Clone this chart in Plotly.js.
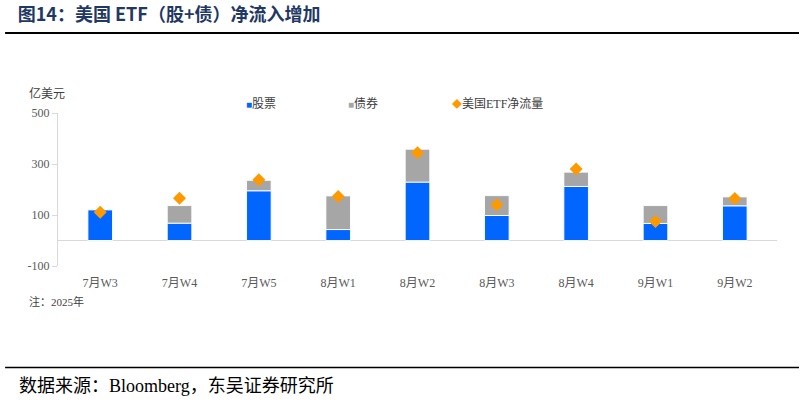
<!DOCTYPE html>
<html>
<head>
<meta charset="utf-8">
<script src="https://cdn.plot.ly/plotly-3.0.1.min.js"></script>
<style>
  body { margin: 0; background: #fff; }
  #plot { width: 805px; height: 403px; }
</style>
</head>
<body>
<div id="plot"></div>
<script>
// weekly US ETF flows, 2025 (亿美元)
const weeks = ['7月W3', '7月W4', '7月W5', '8月W1', '8月W2', '8月W3', '8月W4', '9月W1', '9月W2'];
const equity = [120, 68, 195, 43, 229, 98, 212, 67, 136];
const bonds = [-3, 69, 41, 132, 129, 78, 56, 70, 35];
const netFlow = [111, 166, 238, 173, 344, 140, 280, 75, 165];
const yTicks = [-100, 100, 300, 500];
const yTickText = ['-100', '100', '300', '500'];

const serif = '"Liberation Serif", "Noto Sans CJK SC", serif';
const cjk = '"Noto Sans CJK SC", "Liberation Serif", serif';

const barLine = { color: 'rgba(255,255,255,0.9)', width: 1 };

const traces = [
    {
        x: weeks, y: equity, name: '股票', type: 'bar',
        marker: { color: '#0066FF', line: barLine }
    },
    {
        x: weeks, y: bonds, name: '债券', type: 'bar',
        marker: { color: '#A6A6A6', line: barLine }
    },
    {
        x: weeks, y: netFlow, name: '美国ETF净流量', type: 'scatter', mode: 'markers',
        marker: { symbol: 'diamond', size: 10, color: '#FF9900' }
    }
];

// hand-made legend so the keys stay small and close to their labels
const legendItems = [
    { sym: '■', color: '#0066FF', label: '股票', x: 0.258 },
    { sym: '■', color: '#A6A6A6', label: '债券', x: 0.400 },
    { sym: '◆', color: '#FF9900', label: '美国ETF净流量', x: 0.545 }
];

const legendNotes = legendItems.map(it => ({
    text: `<span style="color:${it.color};font-size:10px">${it.sym}</span>${it.label}`,
    xref: 'paper', yref: 'paper', x: it.x, y: 1.062, xanchor: 'left', yanchor: 'middle',
    showarrow: false, font: { family: serif, size: 12, color: '#404040' }
}));

const layout = {
    width: 805, height: 403,
    margin: { l: 58, r: 28, t: 113, b: 137 },
    paper_bgcolor: '#fff', plot_bgcolor: '#fff',
    barmode: 'relative',
    bargap: 0.69,
    showlegend: false,
    font: { family: cjk, color: '#404040', size: 12 },
    title: {
        text: '<b>图14：美国 ETF（股+债）净流入增加</b>',
        font: { family: cjk, size: 18, color: '#1F3864' },
        x: 0.022, xref: 'container', xanchor: 'left',
        y: 0.963, yref: 'container', yanchor: 'middle'
    },
    xaxis: {
        type: 'category',
        showgrid: false,
        showline: false,
        ticks: '',
        tickfont: { family: serif, size: 12, color: '#595959' },
        ticklabelstandoff: 8
    },
    yaxis: {
        range: [-100, 500],
        tickvals: yTicks,
        ticktext: yTickText,
        showgrid: false,
        zeroline: true, zerolinecolor: '#D9D9D9', zerolinewidth: 1,
        showline: true, linecolor: '#D9D9D9', linewidth: 1,
        ticks: 'outside', ticklen: 5, tickcolor: '#D9D9D9',
        tickfont: { family: serif, size: 12, color: '#595959' }
    },
    shapes: [
        { type: 'line', xref: 'paper', yref: 'paper', x0: -0.0736, x1: 1.0306, y0: 1.523, y1: 1.523,
          line: { color: '#000', width: 2 } },
        { type: 'line', xref: 'paper', yref: 'paper', x0: -0.0736, x1: 1.0306, y0: -0.663, y1: -0.663,
          line: { color: '#000', width: 1.5 } }
    ],
    annotations: [
        { text: '亿美元', xref: 'paper', yref: 'paper', x: -0.043, y: 1.131, xanchor: 'left', yanchor: 'middle',
          showarrow: false, font: { family: cjk, size: 12, color: '#404040' } },
        { text: '注：2025年', xref: 'paper', yref: 'paper', x: -0.043, y: -0.235, xanchor: 'left', yanchor: 'middle',
          showarrow: false, font: { family: serif, size: 11, color: '#404040' } },
        { text: '数据来源：Bloomberg，东吴证券研究所', xref: 'paper', yref: 'paper', x: -0.057, y: -0.784,
          xanchor: 'left', yanchor: 'middle', showarrow: false,
          font: { family: serif, size: 18, color: '#000' } }
    ].concat(legendNotes)
};

Plotly.newPlot('plot', traces, layout, { displayModeBar: false, staticPlot: true });
</script>
</body>
</html>
